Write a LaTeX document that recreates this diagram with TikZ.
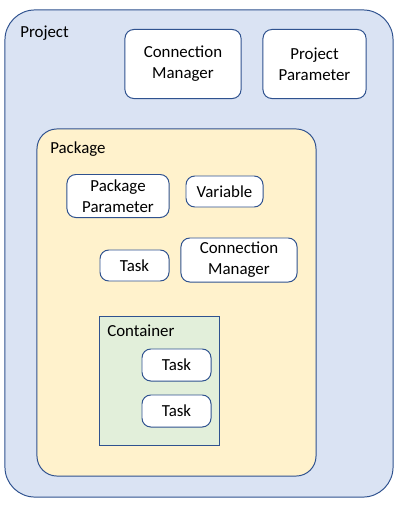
\documentclass[tikz,border=0pt]{standalone}
\usepackage{fontspec}
\setmainfont{Carlito}
\definecolor{edge}{HTML}{2F528F}
\definecolor{projfill}{HTML}{DAE3F3}
\definecolor{packfill}{HTML}{FFF2CC}
\definecolor{contfill}{HTML}{E2EFDA}
\begin{document}
\begin{tikzpicture}[x=0.025cm, y=-0.025cm,
  font=\fontsize{12}{14.8}\selectfont,
  box/.style={draw=edge, line width=0.7pt, fill=white, rounded corners=0.22cm, align=center, inner sep=0pt},
  tag/.style={anchor=west, inner sep=0pt}]
\useasboundingbox (0,0) rectangle (404,506);
% outer frames
\node[draw=edge, line width=0.7pt, fill=projfill, rounded corners=0.75cm, minimum width=9.7cm, minimum height=12.175cm] (project) at (199,253.5) {};
\node[tag] (projlbl) at (20,33) {Project};
\node[box, minimum width=2.9cm, minimum height=1.725cm] (conn) at (183,64) {Connection\\Manager};
\node[box, minimum width=2.575cm, minimum height=1.725cm] (projpar) at (314.5,64) {Project\\Parameter};
\node[draw=edge, line width=0.7pt, fill=packfill, rounded corners=0.5cm, minimum width=6.975cm, minimum height=8.675cm] (package) at (176.5,302.5) {};
\node[tag] (packlbl) at (50,149) {Package};
% package contents
\node[box, minimum width=2.55cm, minimum height=1.075cm] (packpar) at (118,196) {Package\\Parameter};
\node[box, minimum width=1.925cm, minimum height=0.775cm] (var) at (224.5,191.5) {Variable};
\node[box, minimum width=1.725cm, minimum height=0.775cm] (task) at (134.5,265.5) {Task};
\node[box, minimum width=2.9cm, minimum height=1.1cm] (pconn) at (239,260) {Connection\\Manager};
\node[draw=edge, line width=0.7pt, fill=contfill, minimum width=2.975cm, minimum height=3.2cm] (container) at (159.5,381) {};
\node[tag] (contlbl) at (107,331) {Container};
\node[box, minimum width=1.725cm, minimum height=0.8cm] (ctaska) at (176.5,365) {Task};
\node[box, minimum width=1.725cm, minimum height=0.8cm] (ctaskb) at (176.5,411) {Task};
\end{tikzpicture}
\end{document}
